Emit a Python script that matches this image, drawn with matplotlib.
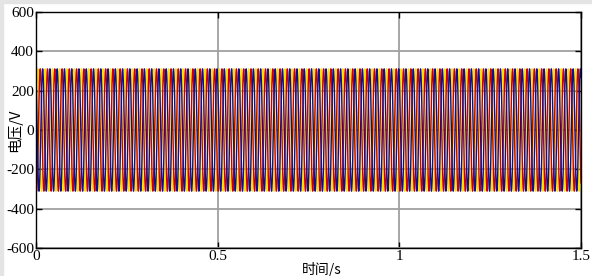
import numpy as np
import matplotlib
matplotlib.use("Agg")
import matplotlib.pyplot as plt
from matplotlib.patches import Rectangle

# --- data parameters (three-phase supply voltage) ---
amplitude_v = 311.0          # peak phase voltage, V
frequency_hz = 50.0          # supply frequency
phase_deg = [0.0, -120.0, 120.0]   # phase A, B, C
phase_colors = ["#FFE000", "#C80000", "#10108C"]
t_end = 1.5
sample_rate = 20000

x_ticks = [0, 0.5, 1, 1.5]
x_tick_labels = ["0", "0.5", "1", "1.5"]
y_ticks = [-600, -400, -200, 0, 200, 400, 600]
y_tick_labels = ["-600", "-400", "-200", "0", "200", "400", "600"]

t = np.linspace(0, t_end, int(t_end * sample_rate) + 1)

fig = plt.figure(figsize=(5.92, 2.76), dpi=100)
fig.patch.set_facecolor("white")
ax = fig.add_axes([0.0608, 0.1014, 0.9206, 0.8551])

for ph, c in zip(phase_deg, phase_colors):
    v = amplitude_v * np.sin(2 * np.pi * frequency_hz * t + np.deg2rad(ph))
    ax.plot(t, v, color=c, lw=1.0, zorder=2)

ax.set_xlim(0, t_end)
ax.set_ylim(-600, 600)
ax.set_xticks(x_ticks)
ax.set_xticklabels(x_tick_labels)
ax.set_yticks(y_ticks)
ax.set_yticklabels(y_tick_labels)
ax.grid(True, color="#a0a0a0", lw=1.3, zorder=1)
ax.set_axisbelow(True)

serif = ["Liberation Serif", "DejaVu Serif"]
for lab in ax.get_xticklabels() + ax.get_yticklabels():
    lab.set_family(serif)
    lab.set_fontsize(11)
ax.tick_params(direction="in", length=4, width=1, top=True, right=True,
               pad=1.5, colors="black")
for s in ax.spines.values():
    s.set_linewidth(1.0)
    s.set_color("black")

cjk = ["Noto Sans CJK SC", "DejaVu Sans"]
ax.set_xlabel("时间/s", family=cjk, fontsize=10)
ax.set_ylabel("电压/V", family=cjk, fontsize=10.5)
ax.xaxis.set_label_coords(0.525, -0.058)
ax.yaxis.set_label_coords(-0.026, 0.5)

# screenshot frame (light gray at top and left)
fig.patches.append(Rectangle((0, 0.988), 1, 0.012, transform=fig.transFigure,
                             color="#e4e4e4", zorder=0))
fig.patches.append(Rectangle((0, 0), 0.005, 1, transform=fig.transFigure,
                             color="#e4e4e4", zorder=0))

fig.savefig("out.png", dpi=100)
